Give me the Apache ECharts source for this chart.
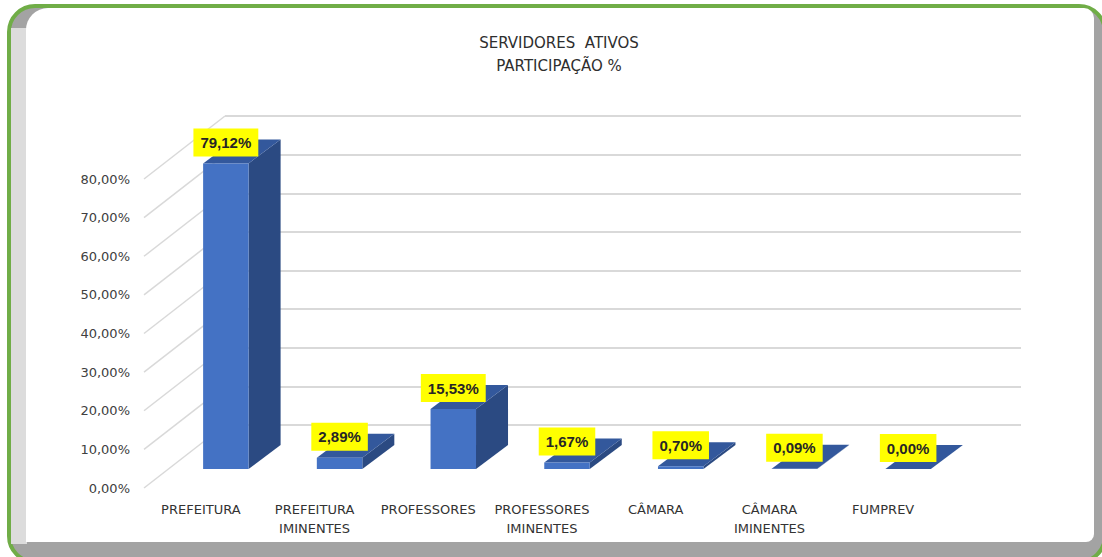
<!DOCTYPE html>
<html>
<head>
<meta charset="utf-8">
<script src="https://cdn.jsdelivr.net/npm/echarts@6/dist/echarts.min.js"></script>
<style>html,body{margin:0;padding:0;background:#fff}#c{width:1102px;height:557px}</style>
</head>
<body>
<div id="c"></div>
<script>
const categories = ['PREFEITURA', 'PREFEITURA\nIMINENTES', 'PROFESSORES', 'PROFESSORES\nIMINENTES', 'CÂMARA', 'CÂMARA\nIMINENTES', 'FUMPREV'];
const values = [79.12, 2.89, 15.53, 1.67, 0.70, 0.09, 0.00];
const yTicks = [0, 10, 20, 30, 40, 50, 60, 70, 80];
const titleLines = ['SERVIDORES  ATIVOS', 'PARTICIPAÇÃO %'];

// perspective styling constants (pixels)
const WALL = [81, -63];      // floor front -> back wall offset
const BAR_OFF = [25, -19];   // floor front -> bar front plane
const BAR_DEPTH = [32, -24]; // bar depth
const FONT = 'DejaVu Sans';
const fmt = v => v.toFixed(2).replace('.', ',') + '%';

const chart = echarts.init(document.getElementById('c'), null, {renderer: 'svg'});

const option = {
  backgroundColor: '#ffffff',
  animation: false,
  title: {
    text: titleLines.join('\n'),
    left: 554, top: 26, textAlign: 'center',
    textStyle: {fontFamily: FONT, fontSize: 15, fontWeight: 'normal', color: '#2e2e2e', lineHeight: 23}
  },
  graphic: [
    {type: 'rect', z: -20, shape: {x: 9, y: 6, width: 1096, height: 556, r: 26}, style: {fill: '#A3A3A3', stroke: '#70AD47', lineWidth: 4}},
    {type: 'rect', z: -19, shape: {x: 11, y: 28, width: 16, height: 516}, style: {fill: '#DCDCDC'}},
    {type: 'rect', z: -18, shape: {x: 26, y: 8, width: 1068, height: 534, r: [22, 10, 8, 0]}, style: {fill: '#ffffff'}}
  ],
  grid: [
    {left: 144, right: 162, top: 179, bottom: 69},
    {left: 225, right: 81, top: 116, bottom: 132}
  ],
  xAxis: [
    {type: 'category', gridIndex: 0, data: categories,
      axisLine: {show: false}, axisTick: {show: false}, splitLine: {show: false},
      axisLabel: {interval: 0, margin: 12, fontFamily: FONT, fontSize: 13, color: '#333333', lineHeight: 19}},
    {type: 'value', gridIndex: 1, show: false}
  ],
  yAxis: [
    {type: 'value', gridIndex: 0, min: 0, max: 80, interval: 10,
      axisLine: {show: false}, axisTick: {show: false}, splitLine: {show: false},
      axisLabel: {margin: 14, fontFamily: FONT, fontSize: 13, color: '#404040', formatter: v => fmt(v)}},
    {type: 'value', gridIndex: 1, min: 0, max: 80, interval: 10,
      axisLine: {show: false}, axisTick: {show: false}, axisLabel: {show: false},
      splitLine: {show: true, lineStyle: {color: '#D9D9D9', width: 2}}}
  ],
  series: [
    {
      type: 'custom', name: 'side', xAxisIndex: 0, yAxisIndex: 0, z: 1, silent: true,
      data: yTicks.map(t => [0, t]),
      renderItem: (params, api) => {
        const cs = params.coordSys;
        const y = api.coord([0, api.value(1)])[1];
        return {type: 'line', shape: {x1: cs.x, y1: y, x2: cs.x + WALL[0], y2: y + WALL[1]},
          style: {stroke: '#D9D9D9', lineWidth: 1.5}};
      }
    },
    {
      type: 'custom', name: 'bars', xAxisIndex: 0, yAxisIndex: 0, z: 5,
      data: values.map((v, i) => [i, v]),
      renderItem: (params, api) => {
        const i = api.value(0), v = api.value(1);
        const p0 = api.coord([i, 0]);
        const p1 = api.coord([i, v]);
        const bw = api.size([1, 0])[0] * 0.4;
        const fx = p0[0] - bw / 2 + BAR_OFF[0];
        const y0 = p0[1] + BAR_OFF[1];
        const y1 = p1[1] + BAR_OFF[1];
        const dx = BAR_DEPTH[0], dy = BAR_DEPTH[1];
        return {
          type: 'group',
          children: [
            {type: 'polygon', shape: {points: [[fx + bw, y1], [fx + bw + dx, y1 + dy], [fx + bw + dx, y0 + dy], [fx + bw, y0]]},
              style: {fill: '#2B4A82'}},
            {type: 'polygon', shape: {points: [[fx, y1], [fx + bw, y1], [fx + bw + dx, y1 + dy], [fx + dx, y1 + dy]]},
              style: {fill: '#33589C'}},
            {type: 'rect', shape: {x: fx, y: y1, width: bw, height: Math.max(y0 - y1, 0)},
              style: {fill: '#4472C4'}},
            {type: 'text', z2: 10, style: {
              text: fmt(v), x: fx + bw / 2, y: y1 - 21, align: 'center', verticalAlign: 'middle',
              fontFamily: 'Liberation Sans', fontWeight: 'bold', fontSize: 15, fill: '#262626',
              backgroundColor: '#FFFF00', padding: [7, 7, 6, 7]}}
          ]
        };
      }
    }
  ]
};
chart.setOption(option);
</script>
</body>
</html>
